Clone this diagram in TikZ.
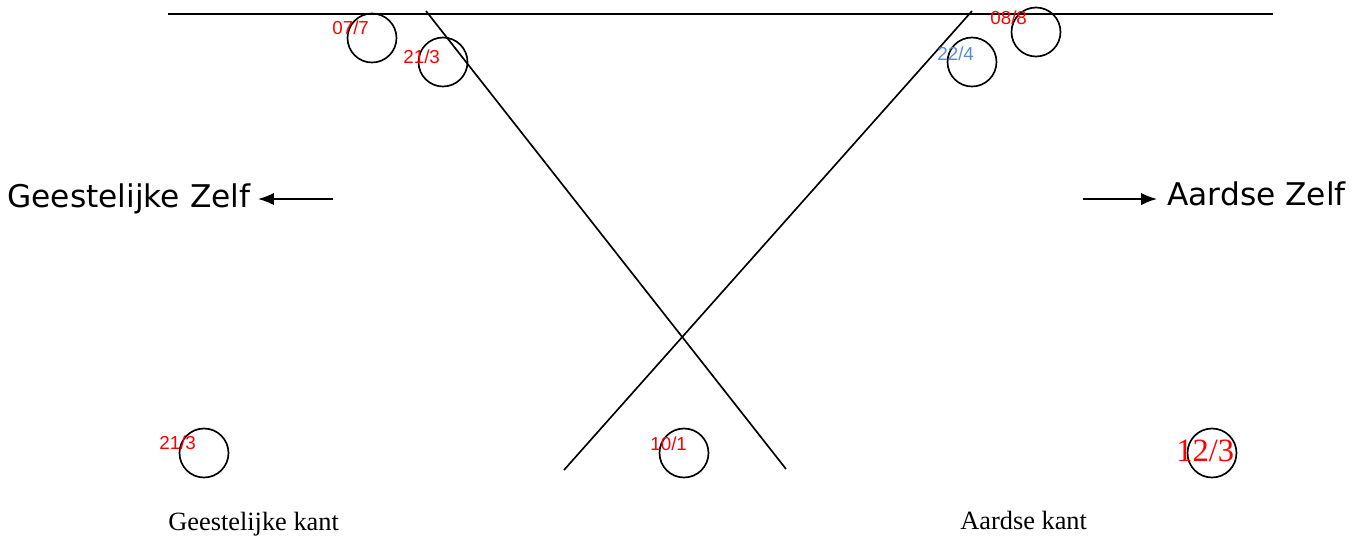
\documentclass[tikz,border=0pt]{standalone}
\usepackage{fontspec}
\setmainfont{Liberation Serif}
\newfontfamily\verdanafont{DejaVu Sans}
\newfontfamily\arialfont{Liberation Sans}
\usetikzlibrary{arrows.meta}

\begin{document}
\begin{tikzpicture}[
    x=0.02cm, y=-0.02cm,
    lijn/.style={draw=black, line width=0.95pt},
    ring/.style={circle, draw=black, line width=0.95pt, minimum size=0.98cm, inner sep=0pt},
    getal/.style={color=red, font=\arialfont\fontsize{10.7}{12}\selectfont, inner sep=0pt, anchor=base west},
    zelf/.style={font=\verdanafont\fontsize{17.8}{21}\selectfont, inner sep=0pt, anchor=base west},
    kant/.style={font=\fontsize{15}{17}\selectfont, inner sep=0pt, anchor=base west},
    pijl/.style={line width=0.95pt, -{Latex[length=9pt, width=7pt]}}
    ]
    % Kleuren
    \definecolor{getalBlauw}{RGB}{84, 141, 212}

    \useasboundingbox (0,0) rectangle (1369,542);

    % Lijnen
    \coordinate (boven-l) at (168,14);
    \coordinate (boven-r) at (1273,14);
    \coordinate (kruis-a1) at (426,11);
    \coordinate (kruis-a2) at (786,469);
    \coordinate (kruis-b1) at (972,11);
    \coordinate (kruis-b2) at (564,470);
    \draw[lijn] (boven-l) -- (boven-r);
    \draw[lijn] (kruis-a1) -- (kruis-a2);
    \draw[lijn] (kruis-b1) -- (kruis-b2);

    % Cirkels boven
    \node[ring] (c077) at (372,38) {};
    \node[getal] (g077) at (332,34) {07/7};

    \node[ring] (c213a) at (443,62) {};
    \node[getal] (g213a) at (403,63) {21/3};

    \node[ring] (c224) at (972,62) {};
    \node[getal, color=getalBlauw] (g224) at (937,60) {22/4};

    \node[ring] (c088) at (1036,32) {};
    \node[getal] (g088) at (990,24) {08/8};

    % Cirkels onder
    \node[ring] (c213b) at (204,453) {};
    \node[getal] (g213b) at (159,449) {21/3};

    \node[ring] (c101) at (684,453) {};
    \node[getal] (g101) at (650,450) {10/1};

    \node[ring] (c123) at (1212,453) {};
    \node[color=red, font=\fontsize{18.5}{21}\selectfont, inner sep=0pt, anchor=base west] (g123) at (1176,461) {12/3};

    % Zelf
    \node[zelf] (geestzelf) at (7,207) {Geestelijke Zelf};
    \coordinate (geest-start) at (333,199);
    \coordinate (geest-eind) at (258,199);
    \draw[pijl] (geest-start) -- (geest-eind);

    \node[zelf] (aardezelf) at (1167,205) {Aardse Zelf};
    \coordinate (aarde-start) at (1083,199);
    \coordinate (aarde-eind) at (1157,199);
    \draw[pijl] (aarde-start) -- (aarde-eind);

    % Kanten
    \node[kant] (geestkant) at (168,530) {Geestelijke kant};
    \node[kant] (aardekant) at (960,529) {Aardse kant};
\end{tikzpicture}
\end{document}
